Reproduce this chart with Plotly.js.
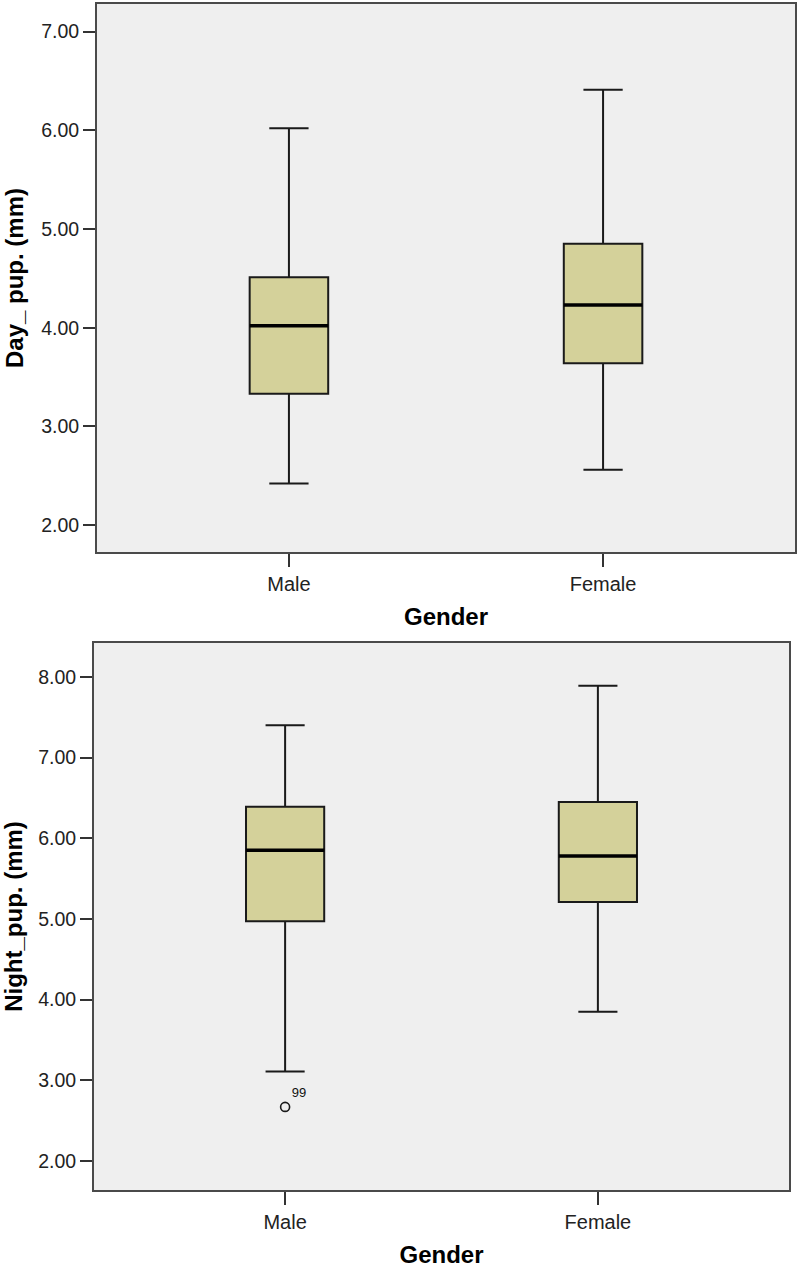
<!DOCTYPE html>
<html>
<head>
<meta charset="utf-8">
<script src="https://cdn.plot.ly/plotly-3.0.1.min.js"></script>
<style>html,body{margin:0;padding:0;background:#fff;}#chart{width:800px;height:1275px;}</style>
</head>
<body>
<div id="chart"></div>
<script>
// ---- data ----
const categories = ["Male", "Female"];
// Day pupil (mm)
const dayMin    = [2.42, 2.56];
const dayQ1     = [3.33, 3.64];
const dayMedian = [4.02, 4.23];
const dayQ3     = [4.51, 4.85];
const dayMax    = [6.02, 6.41];
// Night pupil (mm)
const nightMin    = [3.11, 3.85];
const nightQ1     = [4.97, 5.21];
const nightMedian = [5.85, 5.78];
const nightQ3     = [6.39, 6.45];
const nightMax    = [7.40, 7.89];
// outliers (night)
const outlierCategory = ["Male"];
const outlierValue = [2.67];
const outlierLabel = ["99"];

const dayTicks = [2, 3, 4, 5, 6, 7];
const nightTicks = [2, 3, 4, 5, 6, 7, 8];

// ---- style ----
const boxFill = "#d4d19a";
const lineCol = "#1a1a1a";
const frameCol = "#4a4a4a";
const boxW = 0.25;
const fontFam = "Liberation Sans, Arial, sans-serif";
const idx = categories.map((c, i) => i);

function boxTrace(q1, med, q3, lo, hi, xa, ya) {
  return {
    type: "box", x: idx, q1: q1, median: med, q3: q3,
    lowerfence: lo, upperfence: hi, width: boxW, whiskerwidth: 0.5,
    fillcolor: boxFill, line: {color: lineCol, width: 2},
    xaxis: xa, yaxis: ya, hoverinfo: "skip", showlegend: false, boxpoints: false
  };
}
function medianShapes(med, xref, yref) {
  return med.map((m, i) => ({
    type: "line", xref: xref, yref: yref,
    x0: i - boxW / 2, x1: i + boxW / 2, y0: m, y1: m,
    line: {color: "#000", width: 3.5}, layer: "above"
  }));
}

const traces = [
  boxTrace(dayQ1, dayMedian, dayQ3, dayMin, dayMax, "x", "y"),
  boxTrace(nightQ1, nightMedian, nightQ3, nightMin, nightMax, "x2", "y2"),
  {
    type: "scatter", mode: "markers+text",
    x: outlierCategory.map(c => categories.indexOf(c)), y: outlierValue,
    text: outlierLabel, textposition: "top right",
    textfont: {family: fontFam, size: 13, color: "#111"},
    marker: {symbol: "circle-open", size: 9, color: lineCol, line: {width: 1.6, color: lineCol}},
    xaxis: "x2", yaxis: "y2", hoverinfo: "skip", showlegend: false
  }
];

function xAxis(domain, anchor) {
  return {
    domain: domain, anchor: anchor, range: [-0.611, 1.611],
    tickvals: idx, ticktext: categories, ticks: "outside", ticklen: 13,
    tickwidth: 2, tickcolor: "#333", showgrid: false, zeroline: false,
    showline: true, mirror: true, linecolor: frameCol, linewidth: 2,
    tickfont: {family: fontFam, size: 20, color: "#222"},
    title: {text: "Gender", font: {family: fontFam, size: 24, color: "#000", weight: "bold"}, standoff: 14},
    automargin: false, fixedrange: true
  };
}
function yAxis(domain, anchor, range, ticks, title) {
  return {
    domain: domain, anchor: anchor, range: range,
    tickvals: ticks, tickformat: ".2f", ticks: "outside", ticklen: 12,
    tickwidth: 2, tickcolor: "#333", showgrid: false, zeroline: false,
    showline: true, mirror: true, linecolor: frameCol, linewidth: 2,
    tickfont: {family: fontFam, size: 19.5, color: "#222"},
    title: {text: title, font: {family: fontFam, size: 24, color: "#000", weight: "bold"}, standoff: 11},
    automargin: false, fixedrange: true
  };
}

const layout = {
  width: 800, height: 1275,
  margin: {l: 0, r: 0, t: 0, b: 0},
  paper_bgcolor: "#ffffff", plot_bgcolor: "#efefef",
  showlegend: false,
  xaxis: xAxis([97 / 800, 795 / 800], "y"),
  yaxis: yAxis([1 - 552 / 1275, 1 - 4 / 1275], "x", [1.727, 7.28], dayTicks, "Day_ pup. (mm)"),
  xaxis2: xAxis([94 / 800, 789 / 800], "y2"),
  yaxis2: yAxis([1 - 1190 / 1275, 1 - 643 / 1275], "x2", [1.64, 8.42], nightTicks, "Night_pup. (mm)"),
  shapes: medianShapes(dayMedian, "x", "y").concat(medianShapes(nightMedian, "x2", "y2"))
};

Plotly.newPlot("chart", traces, layout, {staticPlot: true, displayModeBar: false});
</script>
</body>
</html>
